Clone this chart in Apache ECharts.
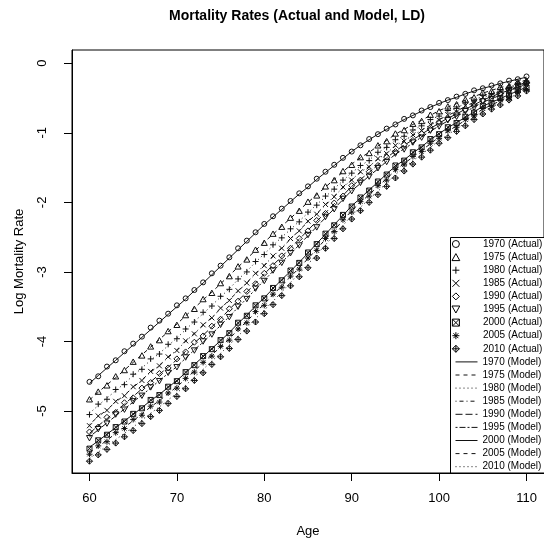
<!DOCTYPE html>
<html>
<head>
<meta charset="utf-8">
<script src="https://cdn.jsdelivr.net/npm/echarts@6/dist/echarts.min.js"></script>
<style>
  html, body { margin: 0; padding: 0; background: #fff; }
  #chart { width: 544px; height: 543px; }
</style>
</head>
<body>
<div id="chart"></div>
<script>
// Ages 60..110, one observation per single year of age
const AGE_MIN = 60, AGE_MAX = 110;
const ages = [];
for (let a = AGE_MIN; a <= AGE_MAX; a++) ages.push(a);

const years = ['1970', '1975', '1980', '1985', '1990', '1995', '2000', '2005', '2010'];

// Observed log mortality rates by age
const actual1970 = [-4.58,-4.50,-4.36,-4.27,-4.14,-4.03,-3.93,-3.80,-3.70,-3.60,-3.48,-3.38,-3.26,-3.15,-3.02,-2.91,-2.79,-2.66,-2.55,-2.43,-2.31,-2.20,-2.09,-1.98,-1.87,-1.77,-1.66,-1.56,-1.46,-1.36,-1.27,-1.18,-1.09,-1.02,-0.94,-0.88,-0.80,-0.75,-0.68,-0.63,-0.57,-0.53,-0.48,-0.44,-0.39,-0.36,-0.32,-0.29,-0.25,-0.23,-0.19];
const actual1975 = [-4.83,-4.72,-4.63,-4.50,-4.41,-4.29,-4.20,-4.07,-3.98,-3.85,-3.76,-3.62,-3.53,-3.39,-3.30,-3.16,-3.06,-2.92,-2.82,-2.68,-2.58,-2.45,-2.35,-2.22,-2.12,-1.99,-1.90,-1.77,-1.68,-1.55,-1.46,-1.35,-1.29,-1.18,-1.12,-1.01,-0.96,-0.87,-0.83,-0.74,-0.69,-0.62,-0.59,-0.52,-0.49,-0.42,-0.40,-0.34,-0.33,-0.27,-0.25];
const actual1980 = [-5.05,-4.90,-4.83,-4.69,-4.62,-4.47,-4.40,-4.25,-4.18,-4.04,-3.96,-3.82,-3.72,-3.58,-3.49,-3.35,-3.25,-3.10,-3.00,-2.85,-2.75,-2.61,-2.51,-2.38,-2.28,-2.14,-2.04,-1.91,-1.81,-1.68,-1.58,-1.47,-1.40,-1.28,-1.21,-1.10,-1.05,-0.96,-0.90,-0.81,-0.76,-0.68,-0.65,-0.57,-0.54,-0.46,-0.44,-0.38,-0.35,-0.29,-0.27];
const actual1985 = [-5.21,-5.07,-4.99,-4.86,-4.78,-4.65,-4.56,-4.43,-4.35,-4.22,-4.13,-3.99,-3.89,-3.76,-3.66,-3.52,-3.41,-3.27,-3.16,-3.02,-2.91,-2.77,-2.66,-2.52,-2.41,-2.27,-2.17,-2.03,-1.92,-1.78,-1.68,-1.56,-1.49,-1.37,-1.30,-1.18,-1.12,-1.03,-0.97,-0.88,-0.82,-0.74,-0.70,-0.61,-0.57,-0.49,-0.46,-0.40,-0.37,-0.31,-0.28];
const actual1990 = [-5.30,-5.23,-5.09,-5.02,-4.88,-4.81,-4.67,-4.59,-4.46,-4.38,-4.25,-4.15,-4.01,-3.92,-3.78,-3.68,-3.53,-3.42,-3.28,-3.17,-3.02,-2.91,-2.77,-2.66,-2.52,-2.41,-2.26,-2.16,-2.01,-1.91,-1.76,-1.68,-1.56,-1.47,-1.35,-1.27,-1.17,-1.11,-1.01,-0.95,-0.85,-0.80,-0.72,-0.67,-0.59,-0.54,-0.47,-0.44,-0.38,-0.35,-0.28];
const actual1995 = [-5.39,-5.26,-5.18,-5.05,-4.98,-4.86,-4.78,-4.66,-4.57,-4.45,-4.37,-4.23,-4.13,-4.00,-3.90,-3.76,-3.65,-3.50,-3.39,-3.24,-3.13,-2.98,-2.87,-2.73,-2.62,-2.47,-2.36,-2.21,-2.10,-1.95,-1.84,-1.72,-1.63,-1.51,-1.42,-1.30,-1.24,-1.14,-1.07,-0.97,-0.91,-0.82,-0.77,-0.69,-0.64,-0.55,-0.52,-0.45,-0.41,-0.34,-0.31];
const actual2000 = [-5.54,-5.42,-5.34,-5.23,-5.15,-5.04,-4.96,-4.84,-4.77,-4.65,-4.57,-4.44,-4.34,-4.21,-4.11,-3.98,-3.88,-3.73,-3.63,-3.48,-3.38,-3.23,-3.12,-2.98,-2.87,-2.72,-2.60,-2.45,-2.33,-2.18,-2.06,-1.93,-1.83,-1.70,-1.60,-1.47,-1.40,-1.28,-1.21,-1.09,-1.02,-0.92,-0.86,-0.77,-0.71,-0.61,-0.57,-0.50,-0.46,-0.39,-0.35];
const actual2005 = [-5.62,-5.50,-5.44,-5.31,-5.25,-5.12,-5.06,-4.93,-4.87,-4.74,-4.67,-4.53,-4.44,-4.30,-4.21,-4.07,-3.98,-3.82,-3.73,-3.57,-3.48,-3.32,-3.22,-3.06,-2.96,-2.80,-2.69,-2.52,-2.42,-2.25,-2.14,-1.99,-1.91,-1.76,-1.68,-1.53,-1.46,-1.34,-1.27,-1.15,-1.08,-0.97,-0.92,-0.81,-0.76,-0.65,-0.62,-0.53,-0.50,-0.41,-0.38];
const actual2010 = [-5.72,-5.63,-5.55,-5.46,-5.37,-5.28,-5.18,-5.08,-4.99,-4.89,-4.79,-4.68,-4.56,-4.45,-4.33,-4.22,-4.10,-3.97,-3.85,-3.72,-3.60,-3.47,-3.34,-3.20,-3.07,-2.94,-2.80,-2.66,-2.52,-2.38,-2.24,-2.12,-2.00,-1.89,-1.77,-1.65,-1.55,-1.45,-1.35,-1.25,-1.15,-1.07,-0.98,-0.90,-0.81,-0.73,-0.66,-0.60,-0.53,-0.47,-0.40];

// Fitted log mortality rates (LD model)
const model1970 = [-4.60,-4.49,-4.38,-4.27,-4.16,-4.05,-3.94,-3.83,-3.72,-3.61,-3.50,-3.39,-3.27,-3.16,-3.04,-2.92,-2.80,-2.68,-2.56,-2.44,-2.32,-2.21,-2.10,-1.99,-1.88,-1.78,-1.67,-1.57,-1.47,-1.37,-1.27,-1.18,-1.10,-1.02,-0.95,-0.88,-0.81,-0.75,-0.69,-0.63,-0.58,-0.53,-0.49,-0.44,-0.40,-0.36,-0.33,-0.29,-0.26,-0.23,-0.20];
const model1975 = [-4.84,-4.73,-4.62,-4.52,-4.41,-4.30,-4.19,-4.08,-3.97,-3.86,-3.75,-3.63,-3.52,-3.40,-3.29,-3.17,-3.05,-2.93,-2.81,-2.69,-2.57,-2.46,-2.34,-2.23,-2.11,-2.00,-1.89,-1.78,-1.67,-1.56,-1.45,-1.36,-1.28,-1.19,-1.11,-1.02,-0.95,-0.88,-0.82,-0.75,-0.68,-0.63,-0.58,-0.53,-0.48,-0.43,-0.39,-0.35,-0.32,-0.28,-0.24];
const model1980 = [-5.03,-4.92,-4.81,-4.71,-4.60,-4.49,-4.38,-4.27,-4.17,-4.06,-3.95,-3.83,-3.71,-3.60,-3.48,-3.36,-3.24,-3.11,-2.99,-2.86,-2.74,-2.62,-2.50,-2.39,-2.27,-2.15,-2.03,-1.92,-1.80,-1.69,-1.57,-1.48,-1.39,-1.29,-1.20,-1.11,-1.04,-0.97,-0.89,-0.82,-0.75,-0.69,-0.64,-0.58,-0.53,-0.47,-0.43,-0.39,-0.34,-0.30,-0.26];
const model1985 = [-5.19,-5.08,-4.98,-4.87,-4.77,-4.66,-4.55,-4.44,-4.34,-4.23,-4.12,-4.00,-3.88,-3.77,-3.65,-3.53,-3.40,-3.28,-3.15,-3.03,-2.90,-2.78,-2.65,-2.53,-2.40,-2.28,-2.16,-2.04,-1.91,-1.79,-1.67,-1.57,-1.48,-1.38,-1.29,-1.19,-1.11,-1.04,-0.96,-0.89,-0.81,-0.75,-0.69,-0.62,-0.56,-0.50,-0.45,-0.41,-0.36,-0.32,-0.27];
const model1990 = [-5.32,-5.21,-5.11,-5.00,-4.90,-4.79,-4.68,-4.58,-4.47,-4.37,-4.26,-4.14,-4.02,-3.91,-3.79,-3.67,-3.54,-3.41,-3.29,-3.16,-3.03,-2.90,-2.78,-2.65,-2.53,-2.40,-2.27,-2.15,-2.02,-1.90,-1.77,-1.67,-1.57,-1.46,-1.36,-1.26,-1.18,-1.10,-1.02,-0.94,-0.86,-0.79,-0.73,-0.66,-0.60,-0.53,-0.48,-0.43,-0.39,-0.34,-0.29];
const model1995 = [-5.37,-5.27,-5.17,-5.07,-4.97,-4.87,-4.77,-4.67,-4.56,-4.46,-4.36,-4.24,-4.12,-4.01,-3.89,-3.77,-3.64,-3.51,-3.38,-3.25,-3.12,-2.99,-2.86,-2.74,-2.61,-2.48,-2.35,-2.22,-2.09,-1.96,-1.83,-1.73,-1.62,-1.52,-1.41,-1.31,-1.23,-1.15,-1.06,-0.98,-0.90,-0.83,-0.76,-0.70,-0.63,-0.56,-0.51,-0.46,-0.40,-0.35,-0.30];
const model2000 = [-5.52,-5.43,-5.33,-5.24,-5.14,-5.05,-4.95,-4.85,-4.76,-4.66,-4.56,-4.45,-4.33,-4.22,-4.10,-3.99,-3.87,-3.74,-3.62,-3.49,-3.37,-3.24,-3.11,-2.99,-2.86,-2.73,-2.59,-2.46,-2.32,-2.19,-2.05,-1.94,-1.82,-1.71,-1.59,-1.48,-1.39,-1.29,-1.20,-1.10,-1.01,-0.93,-0.85,-0.78,-0.70,-0.62,-0.56,-0.51,-0.45,-0.40,-0.34];
const model2005 = [-5.60,-5.51,-5.42,-5.32,-5.23,-5.14,-5.04,-4.94,-4.85,-4.75,-4.65,-4.54,-4.42,-4.31,-4.19,-4.08,-3.96,-3.83,-3.71,-3.58,-3.46,-3.33,-3.20,-3.07,-2.94,-2.81,-2.67,-2.53,-2.40,-2.26,-2.12,-2.00,-1.89,-1.77,-1.66,-1.54,-1.44,-1.35,-1.25,-1.16,-1.06,-0.98,-0.90,-0.82,-0.74,-0.66,-0.60,-0.54,-0.48,-0.42,-0.36];
const model2010 = [-5.68,-5.59,-5.50,-5.41,-5.32,-5.23,-5.13,-5.03,-4.94,-4.84,-4.74,-4.63,-4.51,-4.40,-4.28,-4.17,-4.05,-3.92,-3.80,-3.67,-3.55,-3.42,-3.29,-3.15,-3.02,-2.89,-2.75,-2.61,-2.47,-2.33,-2.19,-2.07,-1.95,-1.84,-1.72,-1.60,-1.50,-1.40,-1.31,-1.21,-1.11,-1.03,-0.94,-0.86,-0.77,-0.69,-0.63,-0.57,-0.50,-0.44,-0.38];

const xTicks = [60, 70, 80, 90, 100, 110];
const yTicks = [0, -1, -2, -3, -4, -5];

const actualSets = [actual1970, actual1975, actual1980, actual1985, actual1990, actual1995, actual2000, actual2005, actual2010];
const modelSets  = [model1970, model1975, model1980, model1985, model1990, model1995, model2000, model2005, model2010];

// Plotting characters, one per year (outline paths so they keep their aspect)
const markers = [
  { symbol: 'path://M10,5A5,5 0 1,1 0,5A5,5 0 1,1 10,5Z', size: 5 },        // open circle
  { symbol: 'path://M5,0L10,9L0,9Z', size: 6 },                             // open triangle
  { symbol: 'path://M5,0V10M0,5H10', size: 6 },                             // plus
  { symbol: 'path://M0,0L10,10M10,0L0,10', size: 5 },                       // cross
  { symbol: 'path://M5,0L10,5L5,10L0,5Z', size: 6 },                        // open diamond
  { symbol: 'path://M0,0H10L5,9Z', size: 6 },                               // inverted triangle
  { symbol: 'path://M0,0H10V10H0ZM0,0L10,10M10,0L0,10', size: 5 },          // boxed cross
  { symbol: 'path://M5,0V10M0,5H10M1.5,1.5L8.5,8.5M8.5,1.5L1.5,8.5', size: 6 }, // asterisk
  { symbol: 'path://M5,0L10,5L5,10L0,5ZM5,0V10M0,5H10', size: 6 }           // diamond with plus
];

// Line types cycle: solid, dashed, dotted, dotdash, longdash, twodash
const dashes = ['solid', [4, 4], [1, 3], [1, 3, 4, 3], [7, 3], [2, 2, 6, 2], 'solid', [4, 4], [1, 3]];

const FONT = 'Liberation Sans, Arial, Helvetica, sans-serif';
const pairs = vals => ages.map((a, i) => [a, vals[i]]);

const series = [];
years.forEach((y, i) => {
  series.push({
    name: y + ' (Model)',
    type: 'line',
    data: pairs(modelSets[i]),
    symbol: 'none',
    color: '#000',
    lineStyle: { color: '#111', width: 1, type: dashes[i] },
    z: 2
  });
});
years.forEach((y, i) => {
  const m = markers[i];
  series.push({
    name: y + ' (Actual)',
    type: 'scatter',
    data: pairs(actualSets[i]),
    symbol: m.symbol,
    symbolSize: m.size,
    symbolKeepAspect: true,
    color: '#000',
    itemStyle: { color: 'rgba(0,0,0,0)', borderColor: '#111', borderWidth: 1, opacity: 1 },
    z: 3
  });
});

const legendText = { fontFamily: FONT, fontSize: 10, lineHeight: 13, color: '#000' };

const chart = echarts.init(document.getElementById('chart'), null, { renderer: 'canvas' });
chart.setOption({
  animation: false,
  backgroundColor: '#fff',
  graphic: [
    {
      type: 'text', x: 297, y: 16, z: 10,
      style: { text: 'Mortality Rates (Actual and Model, LD)', font: 'bold 14px ' + FONT,
               fill: '#000', textAlign: 'center', textVerticalAlign: 'middle' }
    },
    {
      type: 'rect', z: 5,
      shape: { x: 450.5, y: 237.5, width: 120, height: 235.5 },
      style: { fill: '#fff', stroke: '#000', lineWidth: 1 }
    }
  ],
  grid: {
    left: 72, top: 50, width: 475, height: 423,
    show: true, borderColor: '#000', borderWidth: 1, backgroundColor: 'transparent'
  },
  xAxis: {
    type: 'value', min: 58, max: 112,
    name: 'Age', nameLocation: 'middle', nameGap: 52,
    nameTextStyle: { fontFamily: FONT, fontSize: 13, color: '#000' },
    axisLine: { show: true, onZero: false, lineStyle: { color: '#000', width: 1 } },
    axisTick: { show: true, length: 8, customValues: xTicks, lineStyle: { color: '#000' } },
    axisLabel: { customValues: xTicks, margin: 19, fontFamily: FONT, fontSize: 13, color: '#000' },
    splitLine: { show: false }
  },
  yAxis: {
    type: 'value', min: -5.89, max: 0.19,
    name: 'Log Mortality Rate', nameLocation: 'middle', nameGap: 46, nameRotate: 90,
    nameTextStyle: { fontFamily: FONT, fontSize: 13, color: '#000' },
    axisLine: { show: true, onZero: false, lineStyle: { color: '#000', width: 1 } },
    axisTick: { show: true, length: 8, customValues: yTicks, lineStyle: { color: '#000' } },
    axisLabel: { customValues: yTicks, rotate: 90, margin: 23, fontFamily: FONT, fontSize: 13, color: '#000' },
    splitLine: { show: false }
  },
  legend: [
    {
      // the layout box starts at the icon's left edge, so offset by half the icon
      data: years.map(y => y + ' (Actual)'),
      orient: 'vertical', left: 451.5, top: 237.5, padding: 0, z: 10,
      itemWidth: 44, itemHeight: 7, itemGap: 0.1, selectedMode: false,
      itemStyle: { color: 'rgba(0,0,0,0)', borderColor: '#000', borderWidth: 1 },
      textStyle: legendText
    },
    {
      data: years.map(y => y + ' (Model)'),
      orient: 'vertical', left: 455, top: 237.5 + 9 * 13.1, padding: 0, z: 10,
      itemWidth: 22, itemHeight: 7, itemGap: 0.1, selectedMode: false,
      itemStyle: { color: 'rgba(0,0,0,0)', borderColor: 'rgba(0,0,0,0)', borderWidth: 0, opacity: 0 },
      lineStyle: { width: 1, color: '#111' },
      textStyle: legendText
    }
  ],
  series: series
});
</script>
</body>
</html>
